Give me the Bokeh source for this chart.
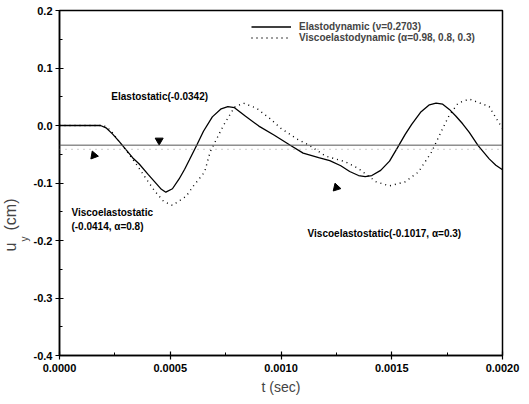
from bokeh.plotting import figure
from bokeh.models import (Range1d, Span, Title, Legend, LegendItem,
                          ColumnDataSource, SingleIntervalTicker, NumeralTickFormatter)
from bokeh.core.properties import value
from bokeh.embed import file_html
from bokeh.resources import INLINE

# ---- data ----
t_elastodyn = [0.0, 0.000185, 0.00021, 0.00024, 0.00027, 0.00030, 0.00033, 0.00036,
               0.00040, 0.00043, 0.00046, 0.00048, 0.00051, 0.00054, 0.000565, 0.000586,
               0.00062, 0.00065, 0.00069, 0.00073, 0.00076, 0.00079, 0.00084, 0.00090,
               0.00097, 0.00104, 0.00110, 0.00117, 0.00122, 0.00127, 0.00131, 0.00135,
               0.00138, 0.00141, 0.00145, 0.00149, 0.00153, 0.00156, 0.00159, 0.00163,
               0.00167, 0.00170, 0.00173, 0.00176, 0.00179, 0.00182, 0.00185, 0.00189,
               0.00194, 0.00197, 0.00200]
u_elastodyn = [0.0, 0.0, -0.004, -0.015, -0.028, -0.042, -0.056, -0.067,
               -0.085, -0.098, -0.111, -0.116, -0.110, -0.093, -0.076, -0.060,
               -0.034, -0.010, 0.015, 0.029, 0.033, 0.031, 0.016, -0.001,
               -0.017, -0.034, -0.048, -0.056, -0.061, -0.070, -0.080, -0.087,
               -0.089, -0.087, -0.078, -0.062, -0.036, -0.016, 0.002, 0.023,
               0.036, 0.039, 0.037, 0.028, 0.016, 0.003, -0.012, -0.035,
               -0.058, -0.069, -0.077]

t_viscodyn = [0.0, 0.0002, 0.00023, 0.00027, 0.00031, 0.00035, 0.00039, 0.00043,
              0.00047, 0.00051, 0.000572, 0.000605, 0.000655, 0.00068, 0.00074, 0.00079,
              0.00083, 0.00089, 0.00095, 0.0010, 0.00107, 0.00113, 0.0012, 0.00129,
              0.00135, 0.00143, 0.00149, 0.00156, 0.00162, 0.00168, 0.00173, 0.00176,
              0.0018, 0.00185, 0.00194, 0.00198, 0.0020]
u_viscodyn = [0.0, 0.0, -0.008, -0.028, -0.048, -0.069, -0.092, -0.114,
              -0.132, -0.139, -0.123, -0.105, -0.081, -0.046, 0.0, 0.032,
              0.039, 0.030, 0.012, -0.005, -0.023, -0.035, -0.053, -0.063,
              -0.075, -0.098, -0.105, -0.098, -0.081, -0.046, -0.005, 0.018,
              0.039, 0.046, 0.033, 0.007, -0.005]

elastostatic = -0.0342
viscoelastostatic_08 = -0.0414

arrow_t = [0.000155, 0.00045, 0.00125]
arrow_u = [-0.052, -0.026, -0.108]
arrow_angle = [0.35, 3.14159, 0.3]

note_t = [0.000234, 0.000054, 0.000054, 0.00112]
note_u = [0.050, -0.151, -0.176, -0.188]
note_text = ["Elastostatic(-0.0342)", "Viscoelastostatic", "(-0.0414, \u03b1=0.8)",
             "Viscoelastostatic(-0.1017, \u03b1=0.3)"]

legend_labels = ["Elastodynamic (\u03bd=0.2703)", "Viscoelastodynamic (\u03b1=0.98, 0.8, 0.3)"]

# ---- figure ----
p = figure(frame_width=443, frame_height=345, output_backend="svg", toolbar_location=None,
           x_range=Range1d(0, 0.002), y_range=Range1d(-0.4, 0.2),
           min_border_left=59, min_border_right=27, min_border_top=10, min_border_bottom=49)
p.xgrid.visible = False
p.ygrid.visible = False
p.outline_line_color = "black"
p.outline_line_width = 1.5
p.background_fill_color = "white"
p.border_fill_color = "white"

p.xaxis.ticker = SingleIntervalTicker(interval=0.0005, num_minor_ticks=2)
p.yaxis.ticker = SingleIntervalTicker(interval=0.1, num_minor_ticks=2)
p.xaxis.formatter = NumeralTickFormatter(format="0.0000")
p.yaxis.formatter = NumeralTickFormatter(format="0.0")

for ax in (p.xaxis[0], p.yaxis[0]):
    ax.axis_line_color = "black"
    ax.axis_line_width = 1.5
    ax.major_tick_in = 4
    ax.major_tick_out = 4
    ax.minor_tick_in = 3
    ax.minor_tick_out = 0
    ax.major_tick_line_width = 1.2
    ax.major_label_text_font = "Liberation Sans"
    ax.major_label_text_font_style = "bold"
    ax.major_label_text_font_size = "11px"
    ax.major_label_text_color = "black"
    ax.axis_label_text_font = "Liberation Sans"
    ax.axis_label_text_font_style = "normal"
    ax.axis_label_text_font_size = "14px"
p.xaxis.axis_label = "t (sec)"
p.xaxis.axis_label_standoff = 4
p.xaxis.major_label_standoff = 4
p.yaxis.major_label_standoff = 3

# y-axis title: "u", subscript "y", "(cm)" built from two side titles
p.add_layout(Title(text="y", text_font="Liberation Sans", text_font_size="10px",
                   text_font_style="normal", align="left", offset=114, standoff=2), "left")
p.add_layout(Title(text="u\u00a0\u00a0\u2009(cm)", text_font="Liberation Sans",
                   text_font_size="16px", text_font_style="normal", align="left",
                   offset=104, standoff=-6), "left")

# static reference levels
p.add_layout(Span(location=elastostatic, dimension="width", line_color="#555555", line_width=1))
p.add_layout(Span(location=viscoelastostatic_08, dimension="width", line_color="#999999",
                  line_width=1, line_dash="1 5"))

r1 = p.line(t_elastodyn, u_elastodyn, line_color="black", line_width=1.3)
r2 = p.line(t_viscodyn, u_viscodyn, line_color="black", line_width=1.4, line_dash="1 4")

p.scatter(arrow_t, arrow_u, marker="triangle", size=8, angle=arrow_angle,
          fill_color="black", line_color="black")

src = ColumnDataSource(dict(t=note_t, u=note_u, s=note_text))
p.text(x="t", y="u", text="s", source=src, text_font=value("Liberation Sans"),
       text_font_size="10px", text_font_style="bold", text_color="black",
       text_baseline="middle", text_align="left")

legend = Legend(items=[LegendItem(label=legend_labels[0], renderers=[r1]),
                       LegendItem(label=legend_labels[1], renderers=[r2])],
                location=(192, 312), padding=0, margin=0, spacing=0,
                border_line_alpha=0, background_fill_alpha=0,
                glyph_width=40, glyph_height=11, label_height=11, label_standoff=8,
                label_text_font="Liberation Sans", label_text_font_size="10px",
                label_text_font_style="bold")
p.add_layout(legend)

open("out.html", "w").write(file_html(p, INLINE))
